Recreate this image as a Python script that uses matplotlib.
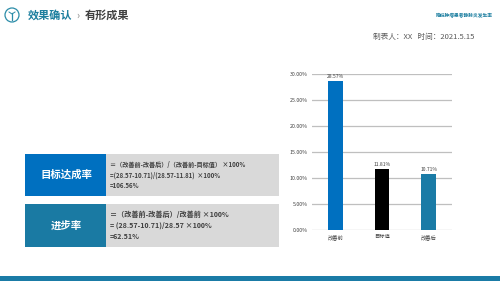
import matplotlib
matplotlib.use('Agg')
import matplotlib.pyplot as plt
from matplotlib.patches import Rectangle, Circle
from matplotlib.ticker import FuncFormatter

plt.rcParams['font.family'] = ['Noto Sans CJK SC', 'DejaVu Sans']

# 数据
categories = ['改善前', '目标值', '改善后']
values = [28.57, 11.81, 10.71]
bar_colors = ['#0070C0', '#000000', '#1A7BA6']
yticks = [0, 5, 10, 15, 20, 25, 30]

box_titles = ['目标达成率', '进步率']
box_lines = [
    ['＝（改善前-改善后）/（改善前-目标值） ×100%',
     '=(28.57-10.71)/(28.57-11.81)  ×100%',
     '=106.56%'],
    ['＝（改善前-改善后）/改善前 ×100%',
     '= (28.57-10.71)/28.57 ×100%',
     '=62.51%'],
]

W, H = 500, 281
fig = plt.figure(figsize=(5, 2.81), dpi=100)

# 背景层，用像素坐标
bg = fig.add_axes([0, 0, 1, 1])
bg.set_xlim(0, W)
bg.set_ylim(H, 0)
bg.axis('off')

# 标题
bg.add_patch(Circle((12, 15), 7, fill=False, ec='#2A8CA8', lw=0.9))
bg.plot([12, 12], [13, 20], color='#2A8CA8', lw=0.9)
bg.plot([9, 12, 15], [12, 14, 12], color='#2A8CA8', lw=0.7)
bg.text(28, 15.5, '效果确认', fontsize=8, fontweight='bold', color='#1C7E9E', va='center')
bg.text(76, 15.5, '›', fontsize=7, color='#808080', va='center')
bg.text(85, 15.5, '有形成果', fontsize=8, fontweight='bold', color='#404040', va='center')

bg.text(493, 15, '降低肿瘤患者静脉炎发生率', fontsize=3.4, fontweight='bold',
        color='#1C7EA0', ha='right', va='center')
bg.text(474, 37, '制表人：XX   时间：2021.5.15', fontsize=5.5, color='#595959',
        ha='right', va='center')

# 左侧两个公式框
box_y = [(154, 196), (204, 247)]
label_colors = ['#0070C0', '#1A7AA3']
line_sizes = [4.4, 5.1]
for i, (y0, y1) in enumerate(box_y):
    bg.add_patch(Rectangle((106, y0), 173, y1 - y0, color='#D9D9D9', lw=0))
    bg.add_patch(Rectangle((25, y0), 81, y1 - y0, color=label_colors[i], lw=0))
    bg.text(66, (y0 + y1) / 2, box_titles[i], fontsize=7.5, fontweight='bold',
            color='white', ha='center', va='center')
    n = len(box_lines[i])
    step = (y1 - y0) / (n + 0.9)
    for j, line in enumerate(box_lines[i]):
        bg.text(110, y0 + step * (j + 0.95), line, fontsize=line_sizes[i],
                fontweight='bold', color='#404040', va='center')

# 底部色条
bg.add_patch(Rectangle((0, 276), W, 5, color='#1A7BA6', lw=0))

# 柱状图
ax = fig.add_axes([312 / W, 1 - 230 / H, 140 / W, 156 / H])
x = range(len(categories))
bars = ax.bar(x, values, width=0.32, color=bar_colors, zorder=3)
for b, v in zip(bars, values):
    ax.text(b.get_x() + b.get_width() / 2, v + 0.4, '%.2f%%' % v,
            ha='center', va='bottom', fontsize=3.6, color='#404040')
ax.set_ylim(0, 30)
ax.set_xlim(-0.5, 2.5)
ax.set_yticks(yticks)
ax.yaxis.set_major_formatter(FuncFormatter(lambda v, p: '%.2f%%' % v))
ax.set_xticks(list(x))
ax.set_xticklabels(categories)
ax.tick_params(axis='both', length=0, labelsize=3.8, colors='#404040', pad=3)
ax.grid(axis='y', color='#BFBFBF', lw=0.9, zorder=0)
for s in ax.spines.values():
    s.set_visible(False)

fig.savefig('out.png', dpi=100)
